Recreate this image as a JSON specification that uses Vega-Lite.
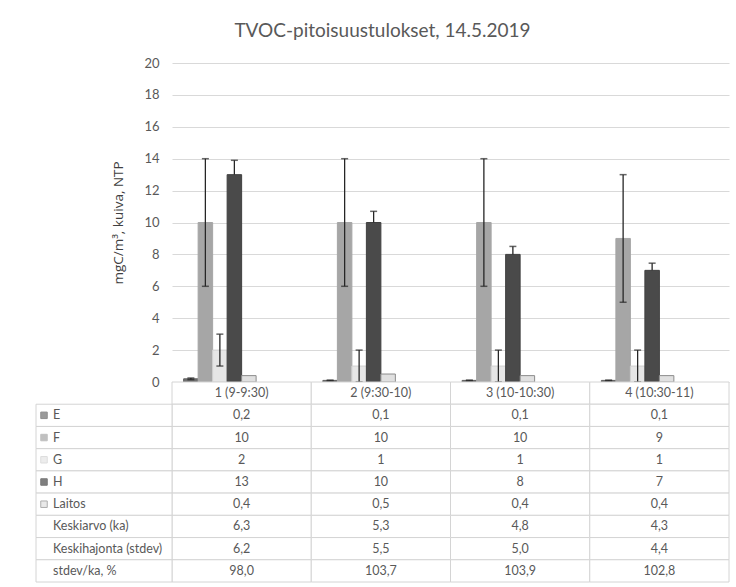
{
  "$schema": "https://vega.github.io/schema/vega-lite/v6.json",
  "padding": {"left": 35, "top": 22, "right": 5, "bottom": 5},
  "background": "white",
  "title": {"text": "TVOC-pitoisuustulokset, 14.5.2019", "fontSize": 19, "font": "Lato", "fontWeight": "normal", "color": "#595959", "anchor": "middle", "offset": 16},
  "config": {"view": {"stroke": null}, "font": "Lato"},
  "bounds": "flush",
  "spacing": 0,
  "datasets": {
    "bars": [
      {"cat": "1 (9-9:30)", "series": "E", "value": 0.2, "lo": 0.15, "hi": 0.25},
      {"cat": "1 (9-9:30)", "series": "F", "value": 10, "lo": 6, "hi": 14},
      {"cat": "1 (9-9:30)", "series": "G", "value": 2, "lo": 1, "hi": 3},
      {"cat": "1 (9-9:30)", "series": "H", "value": 13, "lo": 13, "hi": 13.9},
      {"cat": "1 (9-9:30)", "series": "Laitos", "value": 0.4, "lo": null, "hi": null},
      {"cat": "2 (9:30-10)", "series": "E", "value": 0.1, "lo": 0.08, "hi": 0.12},
      {"cat": "2 (9:30-10)", "series": "F", "value": 10, "lo": 6, "hi": 14},
      {"cat": "2 (9:30-10)", "series": "G", "value": 1, "lo": 0, "hi": 2},
      {"cat": "2 (9:30-10)", "series": "H", "value": 10, "lo": 10, "hi": 10.7},
      {"cat": "2 (9:30-10)", "series": "Laitos", "value": 0.5, "lo": null, "hi": null},
      {"cat": "3 (10-10:30)", "series": "E", "value": 0.1, "lo": 0.08, "hi": 0.12},
      {"cat": "3 (10-10:30)", "series": "F", "value": 10, "lo": 6, "hi": 14},
      {"cat": "3 (10-10:30)", "series": "G", "value": 1, "lo": 0, "hi": 2},
      {"cat": "3 (10-10:30)", "series": "H", "value": 8, "lo": 8, "hi": 8.5},
      {"cat": "3 (10-10:30)", "series": "Laitos", "value": 0.4, "lo": null, "hi": null},
      {"cat": "4 (10:30-11)", "series": "E", "value": 0.1, "lo": 0.08, "hi": 0.12},
      {"cat": "4 (10:30-11)", "series": "F", "value": 9, "lo": 5, "hi": 13},
      {"cat": "4 (10:30-11)", "series": "G", "value": 1, "lo": 0, "hi": 2},
      {"cat": "4 (10:30-11)", "series": "H", "value": 7, "lo": 7, "hi": 7.45},
      {"cat": "4 (10:30-11)", "series": "Laitos", "value": 0.4, "lo": null, "hi": null}
    ],
    "table": [
      {"cat": "1 (9-9:30)", "row": "hdr", "text": "1 (9-9:30)"},
      {"cat": "2 (9:30-10)", "row": "hdr", "text": "2 (9:30-10)"},
      {"cat": "3 (10-10:30)", "row": "hdr", "text": "3 (10-10:30)"},
      {"cat": "4 (10:30-11)", "row": "hdr", "text": "4 (10:30-11)"},
      {"cat": "1 (9-9:30)", "row": "E", "text": "0,2"},
      {"cat": "2 (9:30-10)", "row": "E", "text": "0,1"},
      {"cat": "3 (10-10:30)", "row": "E", "text": "0,1"},
      {"cat": "4 (10:30-11)", "row": "E", "text": "0,1"},
      {"cat": "1 (9-9:30)", "row": "F", "text": "10"},
      {"cat": "2 (9:30-10)", "row": "F", "text": "10"},
      {"cat": "3 (10-10:30)", "row": "F", "text": "10"},
      {"cat": "4 (10:30-11)", "row": "F", "text": "9"},
      {"cat": "1 (9-9:30)", "row": "G", "text": "2"},
      {"cat": "2 (9:30-10)", "row": "G", "text": "1"},
      {"cat": "3 (10-10:30)", "row": "G", "text": "1"},
      {"cat": "4 (10:30-11)", "row": "G", "text": "1"},
      {"cat": "1 (9-9:30)", "row": "H", "text": "13"},
      {"cat": "2 (9:30-10)", "row": "H", "text": "10"},
      {"cat": "3 (10-10:30)", "row": "H", "text": "8"},
      {"cat": "4 (10:30-11)", "row": "H", "text": "7"},
      {"cat": "1 (9-9:30)", "row": "Laitos", "text": "0,4"},
      {"cat": "2 (9:30-10)", "row": "Laitos", "text": "0,5"},
      {"cat": "3 (10-10:30)", "row": "Laitos", "text": "0,4"},
      {"cat": "4 (10:30-11)", "row": "Laitos", "text": "0,4"},
      {"cat": "1 (9-9:30)", "row": "Keskiarvo (ka)", "text": "6,3"},
      {"cat": "2 (9:30-10)", "row": "Keskiarvo (ka)", "text": "5,3"},
      {"cat": "3 (10-10:30)", "row": "Keskiarvo (ka)", "text": "4,8"},
      {"cat": "4 (10:30-11)", "row": "Keskiarvo (ka)", "text": "4,3"},
      {"cat": "1 (9-9:30)", "row": "Keskihajonta (stdev)", "text": "6,2"},
      {"cat": "2 (9:30-10)", "row": "Keskihajonta (stdev)", "text": "5,5"},
      {"cat": "3 (10-10:30)", "row": "Keskihajonta (stdev)", "text": "5,0"},
      {"cat": "4 (10:30-11)", "row": "Keskihajonta (stdev)", "text": "4,4"},
      {"cat": "1 (9-9:30)", "row": "stdev/ka, %", "text": "98,0"},
      {"cat": "2 (9:30-10)", "row": "stdev/ka, %", "text": "103,7"},
      {"cat": "3 (10-10:30)", "row": "stdev/ka, %", "text": "103,9"},
      {"cat": "4 (10:30-11)", "row": "stdev/ka, %", "text": "102,8"}
    ],
    "labels": [
      {"row": "E"}, {"row": "F"}, {"row": "G"}, {"row": "H"}, {"row": "Laitos"},
      {"row": "Keskiarvo (ka)"}, {"row": "Keskihajonta (stdev)"}, {"row": "stdev/ka, %"}
    ]
  },
  "vconcat": [
    {
      "width": 693,
      "height": 319,
      "data": {"name": "bars"},
      "resolve": {"axis": {"y": "independent"}},
      "encoding": {
        "x": {"field": "cat", "type": "nominal", "sort": null,
              "scale": {"domain": ["1 (9-9:30)", "2 (9:30-10)", "3 (10-10:30)", "4 (10:30-11)"], "range": [136, 693], "paddingInner": 0.167, "paddingOuter": 0.0835},
              "axis": null},
        "xOffset": {"field": "series", "type": "nominal",
                    "scale": {"domain": ["E", "F", "G", "H", "Laitos", "ka", "sd", "pct"], "paddingInner": 0, "paddingOuter": 0}}
      },
      "layer": [
        {
          "mark": {"type": "bar", "strokeWidth": 1},
          "encoding": {
            "y": {"field": "value", "type": "quantitative",
                  "scale": {"domain": [0, 20], "nice": false},
                  "axis": {"values": [0, 2, 4, 6, 8, 10, 12, 14, 16, 18, 20], "labelOverlap": false, "offset": -136, "domain": false, "ticks": false,
                           "labelPadding": 13, "labelFontSize": 13, "labelColor": "#595959", "labelFont": "Lato",
                           "grid": true, "gridColor": "#d9d9d9", "gridWidth": 1,
                           "title": "mgC/m³, kuiva, NTP", "titleFont": "Open Sans", "titleFontSize": 13.5, "titleFontWeight": "normal", "titleColor": "#404040", "titlePadding": 18}},
            "color": {"field": "series", "type": "nominal",
                      "scale": {"domain": ["E", "F", "G", "H", "Laitos"], "range": ["#707070", "#a6a6a6", "#e6e6e6", "#4a4a4a", "#e0e0e0"]},
                      "legend": null},
            "stroke": {"field": "series", "type": "nominal",
                       "scale": {"domain": ["E", "F", "G", "H", "Laitos"], "range": ["#606060", "#a6a6a6", "#d0d0d0", "#404040", "#8c8c8c"]},
                       "legend": null}
          }
        },
        {
          "transform": [{"filter": "datum.hi != null"}],
          "mark": {"type": "rule", "color": "#262626", "strokeWidth": 1.3},
          "encoding": {
            "y": {"field": "lo", "type": "quantitative", "axis": null},
            "y2": {"field": "hi"}
          }
        },
        {
          "transform": [{"filter": "datum.hi != null"}],
          "mark": {"type": "tick", "color": "#262626", "size": 7, "thickness": 1.5},
          "encoding": {
            "y": {"field": "hi", "type": "quantitative", "axis": null}
          }
        },
        {
          "transform": [{"filter": "datum.hi != null && datum.lo < datum.value"}],
          "mark": {"type": "tick", "color": "#262626", "size": 7, "thickness": 1.5},
          "encoding": {
            "y": {"field": "lo", "type": "quantitative", "axis": null}
          }
        }
      ]
    },
    {
      "width": 693,
      "height": 200,
      "resolve": {"scale": {"x": "independent"}},
      "encoding": {
        "y": {"field": "row", "type": "nominal", "sort": null,
              "scale": {"domain": ["hdr", "E", "F", "G", "H", "Laitos", "Keskiarvo (ka)", "Keskihajonta (stdev)", "stdev/ka, %"], "paddingInner": 0, "paddingOuter": 0},
              "axis": null}
      },
      "layer": [
        {
          "data": {"name": "table"},
          "mark": {"type": "rect", "fill": "white", "stroke": "#d4d4d4", "strokeWidth": 1},
          "encoding": {
            "x": {"field": "cat", "type": "nominal", "sort": null,
                  "scale": {"domain": ["1 (9-9:30)", "2 (9:30-10)", "3 (10-10:30)", "4 (10:30-11)"], "range": [136, 693], "paddingInner": 0, "paddingOuter": 0},
                  "axis": null}
          }
        },
        {
          "data": {"name": "table"},
          "mark": {"type": "text", "fontSize": 12.5, "font": "Lato", "color": "#595959"},
          "encoding": {
            "x": {"field": "cat", "type": "nominal", "sort": null,
                  "scale": {"domain": ["1 (9-9:30)", "2 (9:30-10)", "3 (10-10:30)", "4 (10:30-11)"], "range": [136, 693], "paddingInner": 0, "paddingOuter": 0},
                  "axis": null},
            "text": {"field": "text"}
          }
        },
        {
          "data": {"name": "labels"},
          "mark": {"type": "rect", "fill": "white", "stroke": "#d4d4d4", "strokeWidth": 1},
          "encoding": {
            "x": {"datum": "lbl", "type": "nominal",
                  "scale": {"domain": ["lbl"], "range": [0, 136], "paddingInner": 0, "paddingOuter": 0},
                  "axis": null}
          }
        },
        {
          "data": {"name": "labels"},
          "mark": {"type": "text", "fontSize": 12.5, "font": "Lato", "color": "#595959", "align": "left", "dx": -51},
          "encoding": {
            "x": {"datum": "lbl", "type": "nominal",
                  "scale": {"domain": ["lbl"], "range": [0, 136], "paddingInner": 0, "paddingOuter": 0},
                  "axis": null},
            "text": {"field": "row"}
          }
        },
        {
          "data": {"name": "labels"},
          "transform": [{"filter": "indexof(['E','F','G','H','Laitos'], datum.row) >= 0"}],
          "mark": {"type": "point", "shape": "square", "size": 42, "filled": true, "strokeWidth": 1, "xOffset": -60},
          "encoding": {
            "x": {"datum": "lbl", "type": "nominal",
                  "scale": {"domain": ["lbl"], "range": [0, 136], "paddingInner": 0, "paddingOuter": 0},
                  "axis": null},
            "color": {"field": "row", "type": "nominal",
                      "scale": {"domain": ["E", "F", "G", "H", "Laitos"], "range": ["#707070", "#a6a6a6", "#e6e6e6", "#4a4a4a", "#e0e0e0"]},
                      "legend": null},
            "stroke": {"field": "row", "type": "nominal",
                       "scale": {"domain": ["E", "F", "G", "H", "Laitos"], "range": ["#606060", "#a6a6a6", "#a0a0a0", "#404040", "#8c8c8c"]},
                       "legend": null}
          }
        }
      ]
    }
  ]
}
